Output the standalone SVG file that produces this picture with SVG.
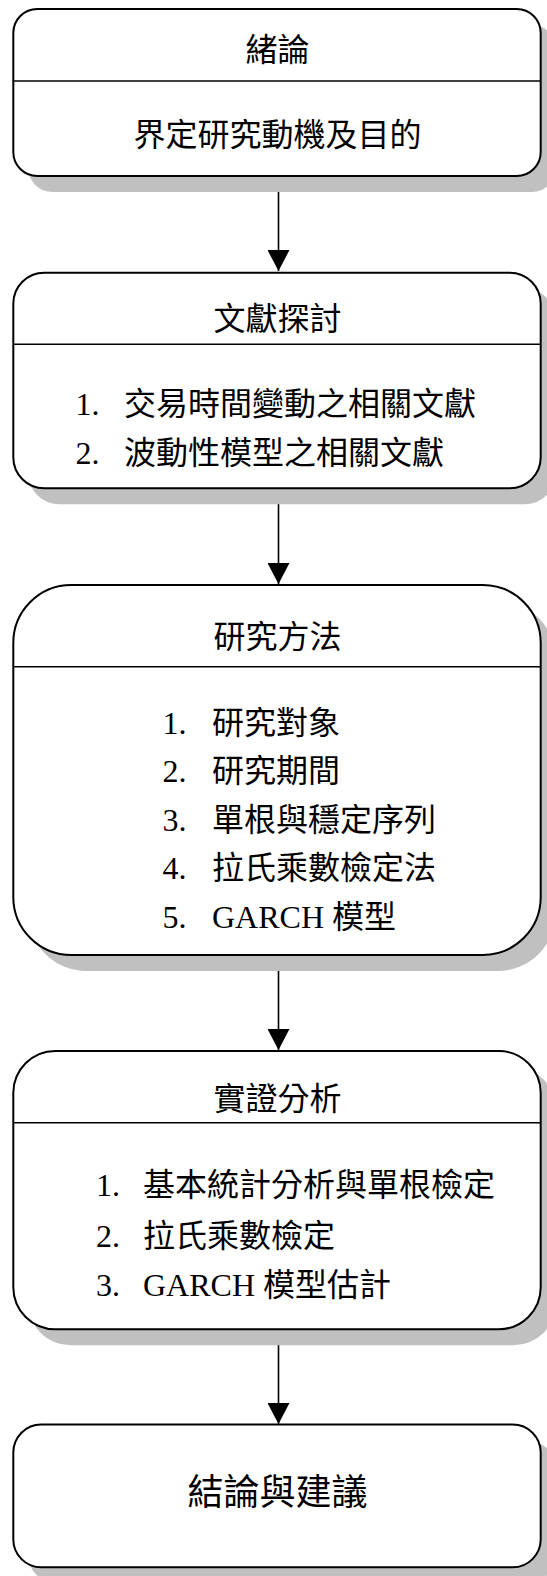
<svg xmlns="http://www.w3.org/2000/svg" width="547" height="1576" viewBox="0 0 547 1576">
<style>
.shadow{fill:#c0c0c0;stroke:none}
.box{fill:#ffffff;stroke:#000000;stroke-width:2}
.div{stroke:#000000;stroke-width:1.6;fill:none}
.conn{stroke:#000000;stroke-width:1.6;fill:none}
.cjk{font-family:"Noto Sans CJK TC","Noto Sans CJK SC",sans-serif;font-size:32px;fill:#000000}
.title{text-anchor:middle}
.num{font-family:"Liberation Serif","Times New Roman",serif;font-size:32px;fill:#000000}
.big{font-size:36px}
</style>
<defs>
<marker id="arrow" markerUnits="userSpaceOnUse" markerWidth="21" markerHeight="22" refX="21" refY="11" orient="auto" viewBox="0 0 21 22">
<path d="M0,0 L21,11 L0,22 Z" fill="#000000"/>
</marker>
</defs>
<rect width="547" height="1576" fill="#ffffff"/>

<g id="connectors">
<path class="conn" d="M278.5,176 L278.5,271" marker-end="url(#arrow)"/>
<path class="conn" d="M278.5,488 L278.5,584" marker-end="url(#arrow)"/>
<path class="conn" d="M278.5,955 L278.5,1050" marker-end="url(#arrow)"/>
<path class="conn" d="M278.5,1329 L278.5,1424" marker-end="url(#arrow)"/>
</g>

<g id="node-intro">
<rect class="shadow" x="28.3" y="25" width="527.4" height="167" rx="24" ry="24"/>
<rect class="box" x="13.3" y="9" width="527.4" height="167" rx="24" ry="24"/>
<line class="div" x1="13.3" y1="81" x2="540.7" y2="81"/>
<text class="cjk title" x="277.5" y="61">緒論</text>
<text class="cjk title" x="277.5" y="146">界定研究動機及目的</text>
</g>

<g id="node-literature">
<rect class="shadow" x="28.3" y="288.7" width="527.4" height="215.6" rx="31" ry="31"/>
<rect class="box" x="13.3" y="272.7" width="527.4" height="215.6" rx="31" ry="31"/>
<line class="div" x1="13.3" y1="344.3" x2="540.7" y2="344.3"/>
<text class="cjk title" x="277.5" y="329.5">文獻探討</text>
<text><tspan class="num" x="75.5" y="414.5">1.</tspan><tspan class="cjk" x="124" y="414.5">交易時間變動之相關文獻</tspan></text>
<text><tspan class="num" x="75.5" y="463.5">2.</tspan><tspan class="cjk" x="124" y="463.5">波動性模型之相關文獻</tspan></text>
</g>

<g id="node-method">
<rect class="shadow" x="28.3" y="601" width="527.4" height="370" rx="58" ry="58"/>
<rect class="box" x="13.3" y="585" width="527.4" height="370" rx="58" ry="58"/>
<line class="div" x1="13.3" y1="666.7" x2="540.7" y2="666.7"/>
<text class="cjk title" x="277.5" y="648">研究方法</text>
<text><tspan class="num" x="162.5" y="733.5">1.</tspan><tspan class="cjk" x="212" y="733.5">研究對象</tspan></text>
<text><tspan class="num" x="162.5" y="782">2.</tspan><tspan class="cjk" x="212" y="782">研究期間</tspan></text>
<text><tspan class="num" x="162.5" y="830.5">3.</tspan><tspan class="cjk" x="212" y="830.5">單根與穩定序列</tspan></text>
<text><tspan class="num" x="162.5" y="879">4.</tspan><tspan class="cjk" x="212" y="879">拉氏乘數檢定法</tspan></text>
<text><tspan class="num" x="162.5" y="927.5">5.</tspan><tspan class="num" x="212" y="927.5">GARCH </tspan><tspan class="cjk">模型</tspan></text>
</g>

<g id="node-empirical">
<rect class="shadow" x="28.3" y="1067" width="527.4" height="278.3" rx="42" ry="42"/>
<rect class="box" x="13.3" y="1051" width="527.4" height="278.3" rx="42" ry="42"/>
<line class="div" x1="13.3" y1="1122.7" x2="540.7" y2="1122.7"/>
<text class="cjk title" x="277.5" y="1110">實證分析</text>
<text><tspan class="num" x="96" y="1196">1.</tspan><tspan class="cjk" x="143" y="1196">基本統計分析與單根檢定</tspan></text>
<text><tspan class="num" x="96" y="1247">2.</tspan><tspan class="cjk" x="143" y="1247">拉氏乘數檢定</tspan></text>
<text><tspan class="num" x="96" y="1296">3.</tspan><tspan class="num" x="143" y="1296">GARCH </tspan><tspan class="cjk">模型估計</tspan></text>
</g>

<g id="node-conclusion">
<rect class="shadow" x="28.3" y="1440.5" width="527.4" height="142.8" rx="28" ry="28"/>
<rect class="box" x="13.3" y="1424.5" width="527.4" height="142.8" rx="28" ry="28"/>
<text class="cjk title big" x="277.5" y="1504.5">結論與建議</text>
</g>
</svg>
